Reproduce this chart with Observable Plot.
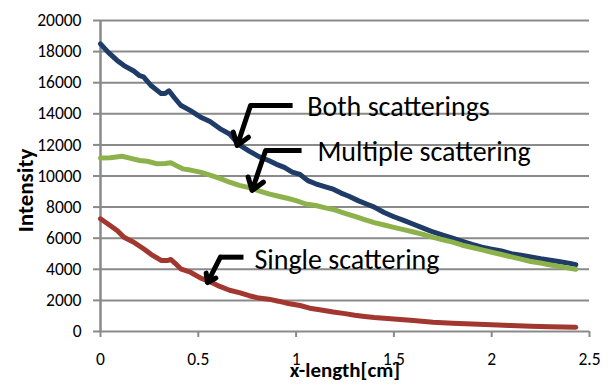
<!DOCTYPE html>
<html><head><meta charset="utf-8">
<script src="https://cdn.jsdelivr.net/npm/d3@7"></script>
<script src="https://cdn.jsdelivr.net/npm/@observablehq/plot@0.6"></script>
<style>
html,body{margin:0;padding:0;background:#fff;}
</style>
</head><body><div id="chart"></div>
<script>
// ---- data ----
const bothX = [0,0.04,0.085,0.12,0.17,0.2,0.22,0.26,0.31,0.33,0.35,0.38,0.41,0.46,0.51,0.56,0.61,0.66,0.71,0.76,0.81,0.86,0.9,0.94,0.98,1.02,1.06,1.1,1.15,1.19,1.23,1.27,1.32,1.36,1.4,1.45,1.5,1.55,1.6,1.65,1.7,1.75,1.8,1.85,1.9,1.95,2.0,2.05,2.1,2.15,2.2,2.25,2.3,2.35,2.4,2.43];
const bothY = [18500,17950,17430,17100,16750,16450,16380,15800,15300,15300,15480,15000,14550,14200,13800,13500,13050,12700,12000,11600,11250,11000,10750,10550,10250,10100,9700,9500,9300,9150,8900,8700,8400,8200,8000,7650,7380,7150,6900,6650,6400,6200,6000,5800,5600,5420,5300,5180,5000,4900,4800,4680,4580,4480,4380,4300];

const multX = [0,0.05,0.11,0.15,0.2,0.24,0.29,0.33,0.36,0.39,0.42,0.46,0.51,0.56,0.61,0.66,0.71,0.76,0.81,0.86,0.91,0.96,1.0,1.05,1.1,1.15,1.19,1.25,1.3,1.35,1.4,1.45,1.5,1.55,1.6,1.65,1.7,1.75,1.8,1.85,1.9,1.95,2.0,2.05,2.1,2.15,2.2,2.25,2.3,2.35,2.4,2.43];
const multY = [11150,11180,11270,11150,11000,10950,10780,10800,10850,10650,10460,10380,10250,10050,9850,9600,9400,9250,9050,8850,8700,8550,8420,8200,8100,7950,7850,7600,7400,7200,7000,6850,6700,6550,6400,6250,6050,5900,5750,5550,5400,5250,5100,4950,4800,4650,4500,4400,4280,4170,4060,4000];

const singX = [0,0.04,0.085,0.12,0.17,0.22,0.26,0.31,0.34,0.36,0.38,0.41,0.46,0.51,0.56,0.61,0.66,0.71,0.76,0.81,0.86,0.91,0.96,1.02,1.07,1.12,1.19,1.25,1.3,1.35,1.4,1.45,1.5,1.6,1.7,1.8,1.9,2.0,2.1,2.2,2.3,2.43];
const singY = [7250,6900,6500,6060,5740,5320,4950,4570,4560,4630,4400,4030,3810,3450,3200,2900,2650,2500,2300,2150,2080,1950,1800,1670,1500,1400,1250,1150,1050,970,900,850,800,700,600,530,480,430,380,340,310,280];

const seriesNames = ["Both scatterings","Multiple scattering","Single scattering"];
const seriesColors = ["#1f3b67","#8db24c","#a2372f"];

const yTicks = [0,2000,4000,6000,8000,10000,12000,14000,16000,18000,20000];
const xTicks = [0,0.5,1,1.5,2,2.5];
const xLabel = "x-length[cm]";
const yLabel = "Intensity";

// annotation anchors (data coordinates)
const annotTextX = [1.057,1.109,0.787];
const annotTextY = [14425,11530,4585];
const arrowTailX = [0.982,1.028,0.731];
const arrowCornerX = [0.767,0.844,0.613];
const arrowCornerY = [14530,11640,4780];
const arrowTipX = [0.699,0.775,0.547];
const arrowTipY = [11960,9070,3150];

// ---- build ----
const rows = [];
[[bothX,bothY],[multX,multY],[singX,singY]].forEach(([xs,ys],i)=>{
  xs.forEach((x,j)=>rows.push({x, y: ys[j], s: seriesNames[i]}));
});
const annots = seriesNames.map((name,i)=>({
  name, tx: annotTextX[i], ty: annotTextY[i],
  x0: arrowTailX[i], cx: arrowCornerX[i], cy: arrowCornerY[i],
  ex: arrowTipX[i], ey: arrowTipY[i]
}));

const font = "Carlito, Lato, sans-serif";
const gray = "#8a8a8a";

const chart = Plot.plot({
  width: 614, height: 388,
  marginLeft: 100, marginRight: 25, marginTop: 20, marginBottom: 57,
  style: {fontFamily: font, color: "#000", background: "#fff"},
  x: {domain: [0, 2.5]},
  y: {domain: [0, 20000]},
  color: {domain: seriesNames, range: seriesColors},
  marks: [
    Plot.gridY(yTicks, {stroke: gray, strokeOpacity: 1, strokeWidth: 2}),
    Plot.axisY(yTicks, {tickSize: 7, tickPadding: 12, stroke: gray, strokeWidth: 2, fontSize: 17.5, tickFormat: d => String(d), label: null}),
    Plot.axisX(xTicks, {tickSize: 6, tickPadding: 15, stroke: gray, strokeWidth: 2, fontSize: 17.5, tickFormat: d => String(d), label: null}),
    Plot.ruleX([0], {stroke: gray, strokeWidth: 2.5, y1: 0, y2: 20000}),
    Plot.line(rows, {x: "x", y: "y", z: "s", stroke: "s", strokeWidth: 5, strokeLinejoin: "round", strokeLinecap: "round"}),
    Plot.link(annots, {x1: "x0", y1: "cy", x2: "cx", y2: "cy", stroke: "#000", strokeWidth: 5}),
    Plot.arrow(annots, {x1: "cx", y1: "cy", x2: "ex", y2: "ey", stroke: "#000", strokeWidth: 5, headLength: 14, headAngle: 70, insetStart: 0, insetEnd: 0}),
    Plot.text(annots, {x: "tx", y: "ty", text: "name", textAnchor: "start", fontSize: 28, fill: "#000"}),
    Plot.text([yLabel], {frameAnchor: "left", textAnchor: "middle", dx: -75, dy: 14.5, rotate: -90, fontSize: 23, fontWeight: "bold", fill: "#000"}),
    Plot.text([xLabel], {frameAnchor: "bottom", dy: 45, fontSize: 21, fontWeight: "bold", fill: "#000"})
  ]
});
document.getElementById("chart").appendChild(chart);
</script>
</body></html>
